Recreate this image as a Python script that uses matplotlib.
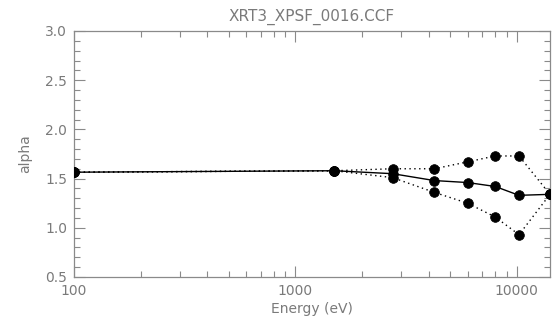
import numpy as np
import matplotlib
matplotlib.use("Agg")
import matplotlib.pyplot as plt
from matplotlib.ticker import LogLocator, MultipleLocator, FixedLocator, NullFormatter

# energies (eV) and alpha values
energy = [100, 1500, 2750, 4250, 6000, 8000, 10250, 14150]
alpha_mid = [1.565, 1.58, 1.55, 1.48, 1.46, 1.42, 1.33, 1.34]
alpha_hi = [1.565, 1.58, 1.60, 1.60, 1.67, 1.73, 1.73, 1.34]
alpha_lo = [1.565, 1.58, 1.51, 1.36, 1.25, 1.11, 0.93, 1.34]

title = "XRT3_XPSF_0016.CCF"
xlabel = "Energy (eV)"
ylabel = "alpha"
xticks = [100, 1000, 10000]
xticklabels = ["100", "1000", "10000"]

grey = "#8a8a8a"
txt = "#7a7a7a"

fig = plt.figure(figsize=(5.53, 3.21), dpi=100)
ax = fig.add_axes([74/553, 1 - 277/321, (550 - 74)/553, (277 - 31)/321])

lines = []
for a in (alpha_hi, alpha_lo):
    lines += ax.plot(energy, a, color="black", lw=1.0, ls=(0, (1, 2.5)),
                     marker="o", ms=7, mfc="black", mec="black", mew=0.5, zorder=3)
lines += ax.plot(energy, alpha_mid, color="black", lw=1.0, ls="-",
                 marker="o", ms=7, mfc="black", mec="black", mew=0.5, zorder=4)
for ln in lines:
    ln.set_clip_path(ax.patch)

ax.set_xscale("log")
ax.set_xlim(100, 14150)
ax.set_ylim(0.5, 3.0)

ax.xaxis.set_major_locator(FixedLocator(xticks))
ax.set_xticklabels(xticklabels)
ax.xaxis.set_minor_locator(LogLocator(base=10, subs=np.arange(2, 10)))
ax.xaxis.set_minor_formatter(NullFormatter())
ax.yaxis.set_major_locator(MultipleLocator(0.5))
ax.yaxis.set_minor_locator(MultipleLocator(0.1))
ax.yaxis.set_major_formatter(matplotlib.ticker.FormatStrFormatter("%.1f"))

for s in ax.spines.values():
    s.set_color(grey)
    s.set_linewidth(0.9)
ax.tick_params(which="both", direction="in", top=True, right=True, color=grey,
               width=0.8, labelcolor=txt, labelsize=10, pad=5)
ax.tick_params(which="major", length=8)
ax.tick_params(which="minor", length=4)

ax.set_title(title, color=txt, fontsize=11, pad=7)
ax.set_xlabel(xlabel, color=txt, fontsize=10, labelpad=3)
ax.set_ylabel(ylabel, color=txt, fontsize=10, labelpad=9)

fig.savefig("out.png", dpi=100)
